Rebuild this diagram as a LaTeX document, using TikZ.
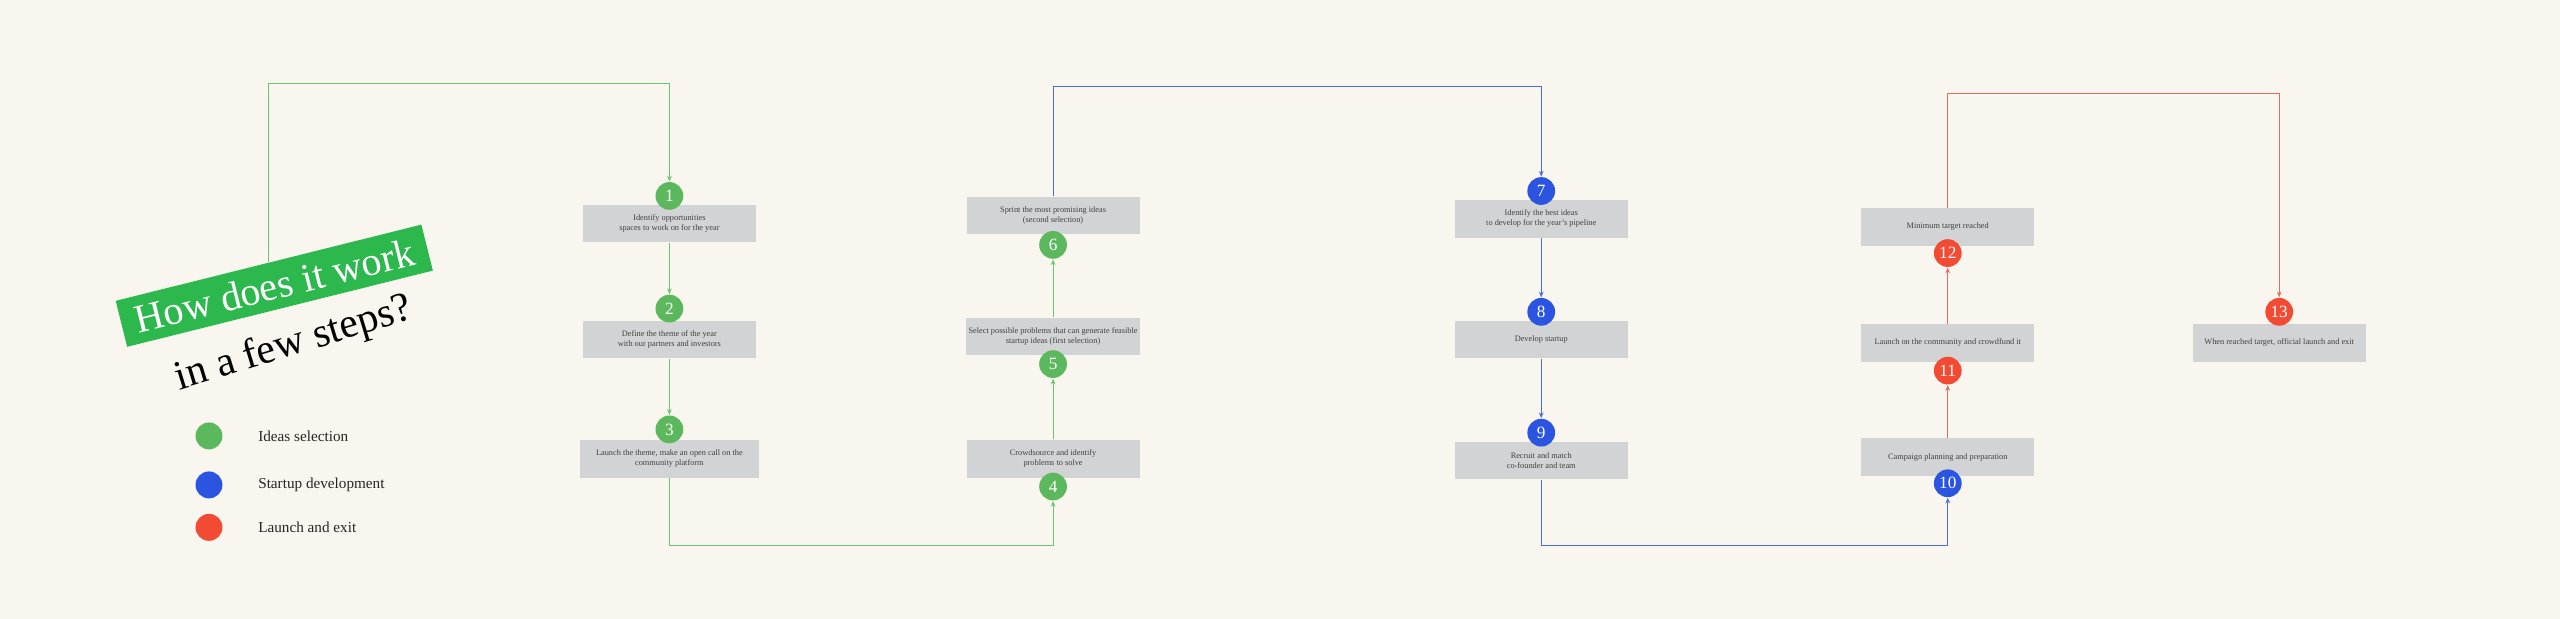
\documentclass[tikz,border=0pt]{standalone}
\usepackage{fontspec}
\setmainfont{Liberation Serif}
\usetikzlibrary{arrows.meta}
\definecolor{bgcol}{HTML}{F9F5EF}
\definecolor{boxcol}{HTML}{D2D3D4}
\definecolor{selgreen}{HTML}{5CB85C}
\definecolor{bangreen}{HTML}{2DB84E}
\definecolor{devblue}{HTML}{2B55E0}
\definecolor{exitred}{HTML}{F24A33}
\definecolor{gline}{HTML}{6CC56C}
\definecolor{bline}{HTML}{4A6BD8}
\definecolor{rline}{HTML}{E86B5A}
\tikzset{
  stepbox/.style={fill=boxcol, minimum width=2.12cm, minimum height=0.46cm, inner sep=1pt,
    align=center, text=black!75, font=\fontsize{2.9}{3.4}\selectfont},
  num/.style={circle, minimum size=0.34cm, inner sep=0pt, text=white, font=\fontsize{6}{6}\selectfont},
  sel/.style={num, fill=selgreen},
  dev/.style={num, fill=devblue},
  ext/.style={num, fill=exitred},
  flow/.style={line width=0.35pt, -{Stealth[length=2pt,width=1.6pt]}},
  legtext/.style={right, font=\fontsize{5.3}{6}\selectfont, text=black!85}
}
\begin{document}
\begin{tikzpicture}[x=0.02cm,y=-0.02cm]
	\fill [bgcol] (0,0) rectangle (1568,379);
	\useasboundingbox (0,0) rectangle (1568,379);
	% title
	\node [fill=bangreen, minimum width=3.86cm, minimum height=0.58cm, rotate=14, text=white,
	       font=\fontsize{14}{14}\selectfont] (title) at (168,175) {How does it work};
	\node [rotate=17, font=\fontsize{14.5}{14.5}\selectfont] (subtitle) at (180,211) {in a few steps?};
	% legend
	\node [sel, minimum size=0.33cm] (l1) at (128,267) {};
	\node [dev, minimum size=0.33cm] (l2) at (128,297) {};
	\node [ext, minimum size=0.33cm] (l3) at (128,323) {};
	\node [legtext] at (152,267) {Ideas selection};
	\node [legtext] at (152,297) {Startup development};
	\node [legtext] at (152,323) {Launch and exit};
	% ideas selection
	\node [stepbox] (b1) at (410,137) {Identify opportunities\\spaces to work on for the year};
	\node [sel] (c1) at (410,120) {1};
	\node [stepbox] (b2) at (410,208) {Define the theme of the year\\with our partners and investors};
	\node [sel] (c2) at (410,189) {2};
	\node [stepbox, minimum width=2.2cm] (b3) at (410,281) {Launch the theme, make an open call on the\\community platform};
	\node [sel] (c3) at (410,263) {3};
	\node [stepbox] (b4) at (645,281) {Crowdsource and identify\\problems to solve};
	\node [sel] (c4) at (645,298) {4};
	\node [stepbox] (b5) at (645,206) {Select possible problems that can generate feasible\\startup ideas (first selection)};
	\node [sel] (c5) at (645,223) {5};
	\node [stepbox] (b6) at (645,132) {Sprint the most promising ideas\\(second selection)};
	\node [sel] (c6) at (645,150) {6};
	% startup development
	\node [stepbox] (b7) at (944,134) {Identify the best ideas\\to develop for the year's pipeline};
	\node [dev] (c7) at (944,117) {7};
	\node [stepbox] (b8) at (944,208) {Develop startup};
	\node [dev] (c8) at (944,191) {8};
	\node [stepbox] (b9) at (944,282) {Recruit and match\\co-founder and team};
	\node [dev] (c9) at (944,265) {9};
	\node [stepbox] (b10) at (1193,280) {Campaign planning and preparation};
	\node [dev] (c10) at (1193,296) {10};
	% launch and exit
	\node [stepbox] (b11) at (1193,210) {Launch on the community and crowdfund it};
	\node [ext] (c11) at (1193,227) {11};
	\node [stepbox] (b12) at (1193,139) {Minimum target reached};
	\node [ext] (c12) at (1193,155) {12};
	\node [stepbox] (b13) at (1396,210) {When reached target, official launch and exit};
	\node [ext] (c13) at (1396,191) {13};
	% turning points
	\coordinate (g1) at (410,51);
	\coordinate (g2) at (410,334);
	\coordinate (u1) at (944,53);
	\coordinate (u2) at (944,334);
	\coordinate (r1) at (1396,57);
	% connectors
	\draw [flow, gline] (title.north) |- (g1) -- (c1.north);
	\draw [flow, gline] (b1) -- (c2);
	\draw [flow, gline] (b2) -- (c3);
	\draw [flow, gline] (b3) -- (g2) -| (c4.south);
	\draw [flow, gline] (b4) -- (c5);
	\draw [flow, gline] (b5) -- (c6);
	\draw [flow, bline] (b6) |- (u1) -- (c7.north);
	\draw [flow, bline] (b7) -- (c8);
	\draw [flow, bline] (b8) -- (c9);
	\draw [flow, bline] (b9) -- (u2) -| (c10.south);
	\draw [flow, rline] (b10) -- (c11);
	\draw [flow, rline] (b11) -- (c12);
	\draw [flow, rline] (b12) |- (r1) -- (c13.north);
\end{tikzpicture}
\end{document}
